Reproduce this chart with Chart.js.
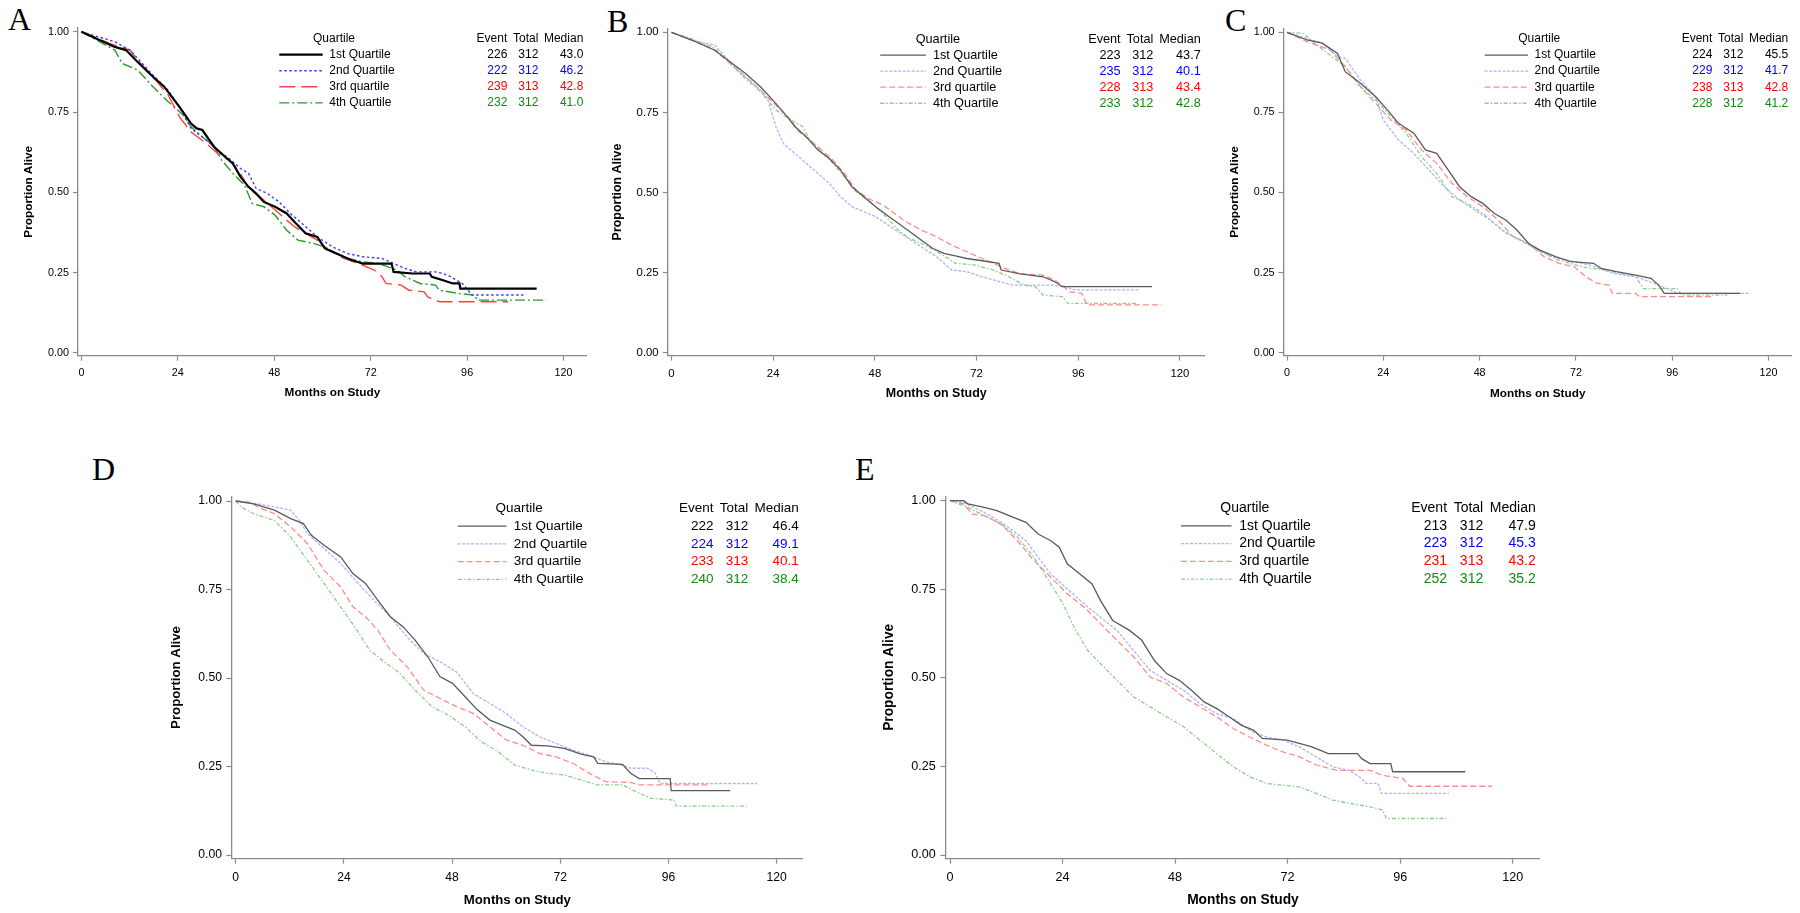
<!DOCTYPE html>
<html>
<head>
<meta charset="utf-8">
<title>Survival by quartile</title>
<script src="https://cdn.jsdelivr.net/npm/chart.js@4.4.0/dist/chart.umd.min.js"></script>
<style>
  body { margin: 0; width: 1800px; height: 913px; background: #fff; position: relative; overflow: hidden; }
  canvas { position: absolute; }
  .tag { position: absolute; font-family: "Liberation Serif", "Times New Roman", serif; font-size: 32px; line-height: 32px; color: #000; }
</style>
</head>
<body>
<script>
// axes
const X_TICKS = [0, 24, 48, 72, 96, 120];
const Y_TICKS = [0, 0.25, 0.5, 0.75, 1];
const QUARTILES = ['1st Quartile', '2nd Quartile', '3rd quartile', '4th Quartile'];

// Panel A  [months, proportion alive]
const A_q1 = [[0,1],[8.3,.953],[11.1,.943],[14,.906],[17.8,.86],[20.6,.829],[24.4,.766],[27.3,.714],[28.7,.699],[30.1,.694],[33,.642],[35.8,.61],[37.7,.59],[39.6,.548],[41.6,.517],[43.5,.496],[45.4,.47],[48.2,.455],[51.1,.434],[53,.408],[55.8,.372],[58.7,.361],[60.6,.325],[62.5,.315],[65.3,.299],[67.2,.289],[70.1,.278],[77.2,.278],[77.7,.252],[82.4,.247],[86.7,.247],[87.2,.237],[90,.226],[92.4,.216],[94.1,.216],[94.3,.2],[113.3,.2]];
const A_q2 = [[0,1],[8.3,.969],[12.1,.943],[14,.917],[17.8,.865],[21.6,.818],[24.4,.766],[27.3,.699],[31.1,.662],[33.9,.631],[36.8,.605],[39.6,.574],[41.6,.559],[43.5,.512],[46.3,.496],[49.2,.47],[52,.434],[54.9,.403],[58.7,.361],[62.5,.33],[66.3,.309],[70.1,.299],[74.8,.294],[77.7,.278],[80.5,.263],[83.4,.252],[88.1,.252],[90,.247],[91.9,.237],[94.8,.216],[96.2,.195],[97.2,.18],[110,.18]];
const A_q3 = [[0,1],[8.3,.958],[12.1,.943],[14,.912],[17.8,.86],[21.6,.803],[24.4,.735],[27.3,.688],[31.1,.652],[33.9,.621],[36.8,.6],[39.6,.559],[41.6,.512],[44.4,.486],[47.3,.455],[50.1,.424],[53,.393],[55.8,.372],[58.7,.351],[61.5,.32],[65.3,.294],[69.1,.278],[72.9,.258],[74.8,.237],[75.8,.216],[79.6,.211],[81.5,.195],[85.3,.19],[86.2,.174],[89.1,.159],[106.2,.159]];
const A_q4 = [[0,1],[4.5,.969],[8.3,.943],[10.2,.901],[14,.881],[17.8,.829],[21.6,.782],[25.4,.74],[27.3,.704],[30.1,.673],[33,.642],[34.9,.6],[37.7,.559],[40.6,.522],[42.5,.465],[45.4,.455],[48.2,.429],[51.1,.382],[53.9,.351],[57.7,.341],[60.6,.33],[63.4,.309],[66.3,.294],[70.1,.283],[73.9,.278],[78.6,.258],[80.5,.237],[84.3,.216],[88.1,.211],[89.1,.195],[93.8,.185],[97.7,.18],[98.6,.164],[115.7,.164]];
const A_events = [226, 222, 239, 232];
const A_totals = [312, 312, 313, 312];
const A_medians = ['43.0', '46.2', '42.8', '41.0'];

// Panel B
const B_q1 = [[0,1],[5.7,.971],[10.2,.944],[13.8,.908],[17.4,.872],[21,.83],[24.6,.778],[27.3,.737],[29.1,.706],[31.8,.674],[34.5,.633],[37.2,.607],[39.9,.57],[42.6,.518],[45.4,.487],[48.1,.456],[50.8,.43],[53.5,.404],[56.2,.378],[58.9,.352],[61.6,.326],[64.3,.31],[67,.302],[69.7,.294],[73.3,.287],[77.3,.279],[77.8,.258],[82.3,.246],[87.7,.237],[90.4,.222],[92.2,.206],[113.4,.206]];
const B_q2 = [[0,1],[5.7,.971],[10.2,.96],[13.8,.908],[17.4,.862],[21,.82],[22.8,.789],[24.6,.706],[26.4,.653],[29.1,.622],[31.8,.591],[34.5,.56],[37.2,.529],[39.9,.487],[42.6,.456],[45.4,.44],[48.1,.425],[51.7,.393],[55.3,.362],[58.9,.331],[62.5,.3],[66.1,.258],[69.7,.253],[73.3,.237],[76,.227],[80.5,.211],[89.5,.211],[93.1,.206],[94.9,.196],[110.3,.196]];
const B_q3 = [[0,1],[5.7,.971],[10.2,.944],[13.8,.903],[17.4,.862],[21,.82],[24.6,.773],[28.2,.726],[30,.69],[32.7,.664],[35.4,.633],[38.1,.601],[40.8,.56],[43.5,.508],[46.3,.482],[49.9,.461],[52.6,.435],[55.3,.409],[58.9,.383],[62.5,.362],[66.1,.336],[69.7,.315],[73.3,.294],[76,.279],[78.7,.263],[82.3,.246],[87.7,.242],[90.4,.227],[92.2,.211],[94,.19],[96.8,.185],[98.1,.149],[115.7,.149]];
const B_q4 = [[0,1],[5.7,.976],[10.2,.95],[13.8,.903],[17.4,.856],[21,.815],[24.6,.758],[28.2,.726],[30.9,.706],[32.7,.664],[35.4,.627],[38.1,.591],[40.8,.549],[43.5,.503],[46.3,.477],[49.9,.435],[53.5,.383],[56.2,.357],[59.8,.336],[63.4,.31],[67,.279],[71.5,.274],[76,.258],[79.6,.237],[83.2,.211],[85.9,.206],[87.7,.18],[92.2,.175],[93.6,.154],[109.8,.154]];
const B_events = [223, 235, 228, 233];
const B_totals = [312, 312, 313, 312];
const B_medians = ['43.7', '40.1', '43.4', '42.8'];

// Panel C
const C_q1 = [[0,1],[5,.976],[8.8,.966],[12.6,.934],[14.5,.877],[18.3,.841],[22.1,.799],[25,.758],[27.8,.716],[31.6,.685],[34.5,.633],[37.3,.622],[40.2,.57],[43,.518],[45.9,.487],[48.8,.466],[51.6,.435],[54.5,.414],[57.3,.383],[60.2,.341],[63,.32],[66.9,.3],[70.7,.284],[76.4,.279],[78.3,.263],[82.1,.253],[86.9,.242],[90.7,.232],[92.6,.211],[94,.185],[113,.185]];
const C_q2 = [[0,1],[8.8,.966],[12.6,.924],[14.5,.919],[18.3,.851],[22.1,.799],[24,.726],[27.8,.664],[31.6,.622],[35.4,.57],[39.2,.518],[43,.477],[46.8,.445],[50.7,.414],[54.5,.373],[58.3,.352],[62.1,.326],[65.9,.3],[69.7,.289],[75.4,.274],[81.1,.248],[86.9,.237],[91.6,.216],[95.4,.196],[97.3,.185],[115.4,.185]];
const C_q3 = [[0,1],[5,.971],[10.7,.945],[14.5,.893],[18.3,.83],[22.1,.778],[25.9,.726],[29.7,.695],[33.5,.633],[37.3,.591],[41.1,.529],[44.9,.487],[48.8,.456],[52.6,.414],[56.4,.362],[60.2,.341],[64,.3],[67.8,.279],[71.6,.268],[74.5,.237],[77.3,.216],[80.2,.211],[81.1,.185],[86.9,.185],[87.8,.175],[106.4,.175]];
const C_q4 = [[0,1],[4,.997],[6.9,.966],[10.7,.929],[14.5,.893],[18.3,.83],[22.1,.789],[25.9,.737],[29.7,.685],[33.5,.612],[37.3,.56],[41.1,.487],[44.9,.466],[48.8,.435],[52.6,.393],[56.4,.362],[60.2,.336],[64,.31],[67.8,.289],[73.5,.268],[79.2,.258],[86.9,.237],[88.8,.2],[97.3,.2],[98.3,.18],[109.7,.18]];
const C_events = [224, 229, 238, 228];
const C_totals = [312, 312, 313, 312];
const C_medians = ['45.5', '41.7', '42.8', '41.2'];

// Panel D
const D_q1 = [[0,1],[4,.992],[8.6,.974],[12.2,.95],[15,.936],[16.8,.903],[19.6,.875],[23.3,.842],[26,.795],[28.8,.767],[31.5,.72],[34.3,.673],[37.1,.645],[39.8,.607],[42.6,.56],[45.3,.504],[48.1,.485],[50.9,.447],[53.6,.41],[56.4,.381],[59.1,.367],[61.9,.353],[63.7,.334],[65.6,.31],[69.2,.308],[72.9,.301],[76.6,.285],[79.4,.277],[80.3,.259],[85.8,.256],[87.6,.231],[89.5,.216],[96.4,.216],[96.6,.182],[109.7,.182]];
const D_q2 = [[0,1],[4.9,.992],[8.6,.983],[12.2,.974],[14.1,.945],[15.9,.908],[19.6,.865],[23.3,.823],[26.9,.771],[30.6,.72],[34.3,.673],[38,.616],[41.7,.569],[45.3,.546],[49,.517],[52.7,.456],[56.4,.428],[60,.4],[63.7,.362],[67.4,.334],[71.1,.315],[74.8,.296],[78.4,.282],[82.1,.263],[85.8,.254],[87.6,.245],[91.3,.245],[93.1,.231],[94.1,.202],[115.7,.202]];
const D_q3 = [[0,1],[3,.997],[4.9,.983],[8.6,.964],[12.2,.927],[15.9,.88],[19.6,.804],[23.3,.757],[26,.701],[28.8,.673],[31.5,.635],[34.3,.579],[38,.532],[41.7,.466],[45.3,.442],[49,.419],[52.7,.4],[56.4,.362],[60,.325],[63.7,.31],[67.4,.287],[71.1,.277],[74.8,.259],[78.4,.231],[82.1,.207],[87.6,.205],[89.5,.198],[104.6,.198]];
const D_q4 = [[0,1],[1.2,.983],[4,.964],[8.6,.945],[12.2,.898],[15.9,.833],[19.6,.767],[23.3,.701],[26.9,.635],[29.7,.579],[33.4,.541],[36.1,.517],[39.8,.466],[43.5,.419],[47.2,.395],[50.9,.362],[54.5,.32],[58.2,.292],[61.9,.254],[65.6,.24],[69.2,.231],[72.9,.226],[76.6,.212],[80.3,.198],[85.8,.198],[89.5,.175],[92.2,.16],[97.3,.155],[97.7,.138],[113.4,.138]];
const D_events = [222, 224, 233, 240];
const D_totals = [312, 312, 313, 312];
const D_medians = ['46.4', '49.1', '40.1', '38.4'];

// Panel E
const E_q1 = [[0,1],[2.9,1],[3.8,.991],[7.3,.981],[10,.972],[12.6,.958],[16.2,.939],[18.8,.906],[21.5,.887],[23.3,.869],[25,.822],[27.7,.793],[30.3,.765],[32.1,.718],[34.7,.662],[38.3,.634],[40.9,.606],[43.6,.549],[46.2,.512],[48.9,.493],[51.5,.465],[54.2,.432],[56.9,.413],[59.5,.39],[62.2,.366],[64.8,.352],[66.6,.329],[71.9,.324],[74.5,.315],[77.2,.305],[80.7,.286],[86.9,.286],[87.8,.272],[89.6,.258],[94,.258],[94.4,.235],[109.9,.235]];
const E_q2 = [[0,1],[2.9,.995],[7.3,.967],[10.9,.939],[13.5,.915],[16.2,.887],[18.8,.84],[21.5,.793],[25,.751],[28.6,.709],[32.1,.671],[35.6,.634],[39.2,.577],[42.7,.521],[46.2,.493],[49.8,.465],[53.3,.427],[56.9,.399],[60.4,.385],[63.9,.352],[67.5,.333],[71,.324],[74.5,.305],[78.1,.277],[81.6,.249],[85.1,.239],[87.8,.216],[88.7,.202],[91.3,.202],[92,.174],[106.4,.174]];
const E_q3 = [[0,1],[2.9,.991],[4.7,.962],[7.3,.958],[10.9,.934],[14.4,.887],[17.9,.831],[21.5,.784],[25,.737],[28.6,.7],[32.1,.653],[35.6,.606],[39.2,.559],[42.7,.502],[46.2,.484],[49.8,.446],[53.3,.418],[56.9,.39],[60.4,.357],[63.9,.333],[67.5,.31],[71,.291],[74.5,.277],[78.1,.254],[82.5,.239],[89.6,.239],[92.2,.225],[96.6,.216],[98,.194],[115.6,.194]];
const E_q4 = [[0,1],[3.8,.981],[7.3,.958],[10.9,.934],[14.4,.897],[17.9,.84],[21.5,.765],[24.1,.709],[26.8,.634],[29.4,.577],[32.1,.54],[35.6,.493],[39.2,.446],[42.7,.418],[46.2,.39],[49.8,.362],[53.3,.324],[56.9,.286],[60.4,.249],[63.9,.221],[67.5,.202],[71,.197],[74.5,.192],[78.1,.174],[81.6,.155],[85.1,.146],[89.6,.136],[92.2,.127],[93.1,.103],[105.9,.103]];
const E_events = [213, 223, 231, 252];
const E_totals = [312, 312, 313, 312];
const E_medians = ['47.9', '45.3', '43.2', '35.2'];

// estilos das curvas
const STYLE_BOLD = [
  { color: '#000000', width: 2.2, dash: [] },
  { color: '#3c3cff', width: 1.4, dash: [2.5, 2.5] },
  { color: '#ff4040', width: 1.4, dash: [16, 6] },
  { color: '#2e9a2e', width: 1.4, dash: [10, 3, 2, 3] }
];
const STYLE_FAINT = [
  { color: '#5a5a5a', width: 1.3, dash: [] },
  { color: '#b0b2ff', width: 1.3, dash: [3, 1.5] },
  { color: '#ff8c8c', width: 1.3, dash: [6, 3] },
  { color: '#8ccf8c', width: 1.3, dash: [4, 2, 1.5, 2] }
];
const NUM_COLORS = ['#000000', '#0000ff', '#ff0000', '#108a10'];
const FONT = '"Liberation Sans", Arial, sans-serif';

const XMIN = -0.85, XMAX = 125.8, YMIN = -0.009, YMAX = 1.012;

// posicao de cada painel na figura
const panels = [
  { tag: 'A', series: [A_q1, A_q2, A_q3, A_q4], events: A_events, totals: A_totals, medians: A_medians, style: STYLE_BOLD,
    x0: 81.4, ppm: 4.018, y1: 31.8, y0: 352.8, yTitleX: 29, xTitleY: 393, tagX: 8, tagY: 3 },
  { tag: 'B', series: [B_q1, B_q2, B_q3, B_q4], events: B_events, totals: B_totals, medians: B_medians, style: STYLE_FAINT,
    x0: 671.5, ppm: 4.237, y1: 32.3, y0: 352.7, yTitleX: 617.2, xTitleY: 394, tagX: 607, tagY: 5 },
  { tag: 'C', series: [C_q1, C_q2, C_q3, C_q4], events: C_events, totals: C_totals, medians: C_medians, style: STYLE_FAINT,
    x0: 1287, ppm: 4.013, y1: 32.3, y0: 352.7, yTitleX: 1235.2, xTitleY: 394, tagX: 1225, tagY: 4 },
  { tag: 'D', series: [D_q1, D_q2, D_q3, D_q4], events: D_events, totals: D_totals, medians: D_medians, style: STYLE_FAINT,
    x0: 235.7, ppm: 4.508, y1: 501, y0: 855, yTitleX: 176.5, xTitleY: 900, tagX: 92, tagY: 453 },
  { tag: 'E', series: [E_q1, E_q2, E_q3, E_q4], events: E_events, totals: E_totals, medians: E_medians, style: STYLE_FAINT,
    x0: 950, ppm: 4.689, y1: 500.7, y0: 855, yTitleX: 889, xTitleY: 900, tagX: 855, tagY: 453 }
];

// legenda desenhada à direita dentro do gráfico
const kmLegend = {
  id: 'kmLegend',
  afterDraw(chart, args, opts) {
    const g = opts.g;
    const p = g.p;
    const ctx = chart.ctx;
    const X = dx => p.x0 - g.cvLeft + dx * g.kx;
    const Y = dy => p.y1 - g.cvTop + dy * g.ky;
    ctx.save();
    ctx.font = (12 * g.kx).toFixed(1) + 'px ' + FONT;
    ctx.textBaseline = 'middle';
    ctx.fillStyle = '#000';
    ctx.textAlign = 'center';
    ctx.fillText('Quartile', X(252.6), Y(6.8));
    ctx.textAlign = 'right';
    ctx.fillText('Event', X(425.9), Y(6.8));
    ctx.fillText('Total', X(456.9), Y(6.8));
    ctx.fillText('Median', X(501.9), Y(6.8));
    for (let i = 0; i < 4; i++) {
      const y = Y(22.8 + 16.1 * i);
      const st = p.style[i];
      ctx.beginPath();
      ctx.strokeStyle = st.color;
      ctx.lineWidth = st.width;
      ctx.setLineDash(st.dash);
      ctx.moveTo(X(197.9), y);
      ctx.lineTo(X(241.3), y);
      ctx.stroke();
      ctx.setLineDash([]);
      ctx.fillStyle = '#000';
      ctx.textAlign = 'left';
      ctx.fillText(QUARTILES[i], X(247.9), y);
      ctx.fillStyle = NUM_COLORS[i];
      ctx.textAlign = 'right';
      ctx.fillText(String(p.events[i]), X(425.9), y);
      ctx.fillText(String(p.totals[i]), X(456.9), y);
      ctx.fillText(p.medians[i], X(501.9), y);
    }
    ctx.restore();
  }
};

panels.forEach(p => {
  const kx = p.ppm / 4.018;
  const ppy = p.y0 - p.y1;
  const ky = ppy / 321;
  const titleSize = 11.8 * kx;
  const lh = titleSize * 1.2;
  const tickSize = 10.8 * kx;
  const area = {
    left: p.x0 + XMIN * p.ppm,
    right: p.x0 + XMAX * p.ppm,
    top: p.y1 - (YMAX - 1) * ppy,
    bottom: p.y0 - YMIN * ppy
  };
  const cvLeft = Math.floor(p.yTitleX - lh / 2);
  const cvTop = Math.floor(area.top - 12);
  const cvRight = Math.min(1800, Math.ceil(area.right + 8));
  const cvBottom = Math.ceil(p.xTitleY + lh / 2);

  const tag = document.createElement('div');
  tag.className = 'tag';
  tag.textContent = p.tag;
  tag.style.left = p.tagX + 'px';
  tag.style.top = p.tagY + 'px';
  document.body.appendChild(tag);

  const canvas = document.createElement('canvas');
  canvas.width = cvRight - cvLeft;
  canvas.height = cvBottom - cvTop;
  canvas.style.left = cvLeft + 'px';
  canvas.style.top = cvTop + 'px';
  document.body.appendChild(canvas);

  const g = { p, kx, ky, cvLeft, cvTop };
  const axisGrid = { display: true, drawOnChartArea: false, drawTicks: true, tickLength: 5 * ky, tickColor: '#8a8a8a', tickWidth: 1.2 };
  const axisBorder = { display: true, color: '#8a8a8a', width: 1.3 };

  new Chart(canvas, {
    type: 'line',
    data: {
      datasets: p.series.map((s, i) => ({
        label: QUARTILES[i],
        data: s,
        borderColor: p.style[i].color,
        borderWidth: p.style[i].width,
        borderDash: p.style[i].dash,
        pointRadius: 0,
        fill: false,
        tension: 0
      }))
    },
    options: {
      responsive: false,
      animation: false,
      events: [],
      layout: { padding: { left: 0, top: area.top - cvTop, right: cvRight - area.right, bottom: 0 } },
      plugins: { legend: { display: false }, tooltip: { enabled: false }, kmLegend: { g } },
      scales: {
        x: {
          type: 'linear', min: XMIN, max: XMAX,
          afterBuildTicks: s => { s.ticks = X_TICKS.map(v => ({ value: v })); },
          afterFit: s => { s.height = cvBottom - area.bottom; },
          ticks: { autoSkip: false, maxRotation: 0, padding: 6 * ky, color: '#000', font: { family: FONT, size: tickSize }, callback: v => String(v) },
          grid: axisGrid,
          border: axisBorder,
          title: { display: true, text: 'Months on Study', color: '#000', font: { family: FONT, size: titleSize, weight: 'bold' },
                   padding: { top: 0, bottom: cvBottom - (p.xTitleY + lh / 2) } }
        },
        y: {
          type: 'linear', min: YMIN, max: YMAX,
          afterBuildTicks: s => { s.ticks = Y_TICKS.map(v => ({ value: v })); },
          afterFit: s => { s.width = area.left - cvLeft; },
          ticks: { padding: 4 * kx, color: '#000', font: { family: FONT, size: tickSize }, callback: v => v.toFixed(2) },
          grid: axisGrid,
          border: axisBorder,
          title: { display: true, text: 'Proportion Alive', color: '#000', font: { family: FONT, size: titleSize, weight: 'bold' },
                   padding: { top: (p.yTitleX - lh / 2) - cvLeft, bottom: 0 } }
        }
      }
    },
    plugins: [kmLegend]
  });
});
</script>
</body>
</html>
